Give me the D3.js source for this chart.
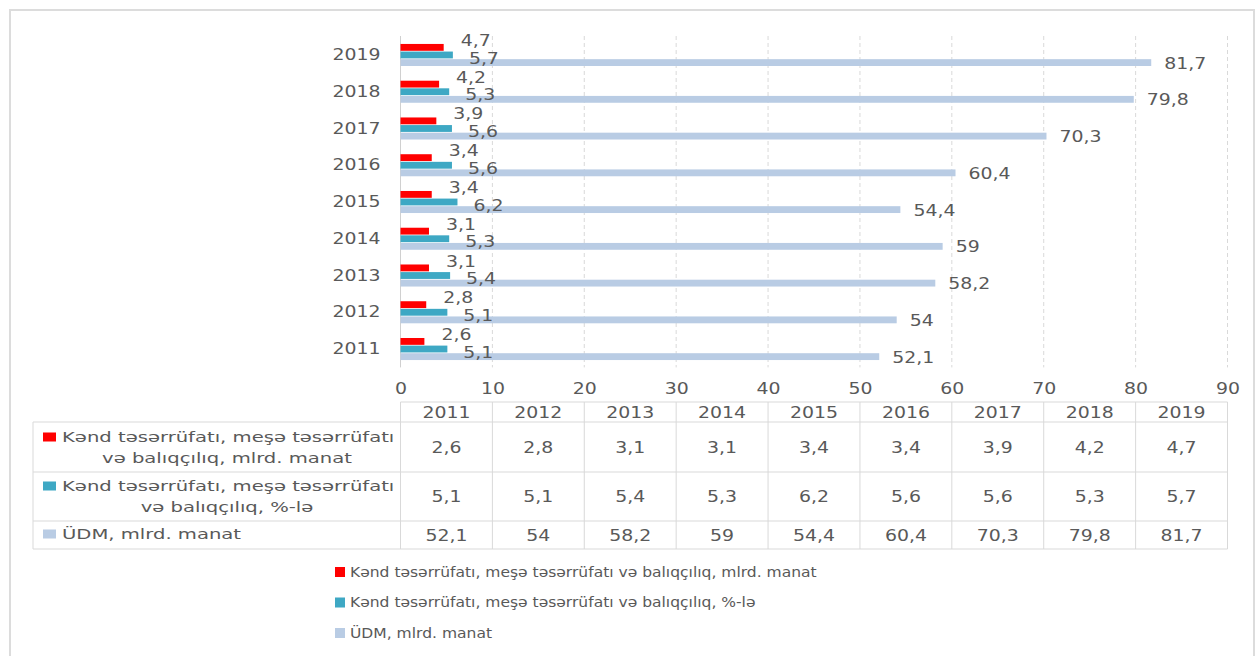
<!DOCTYPE html>
<html>
<head>
<meta charset="utf-8">
<script src="https://cdn.jsdelivr.net/npm/d3@7"></script>
<style>
  body { margin: 0; background: #fff; }
  text { font-family: "DejaVu Sans", sans-serif; fill: #595959; }
</style>
</head>
<body>
<script>
// data
const years = [2011, 2012, 2013, 2014, 2015, 2016, 2017, 2018, 2019];
const agriValue = [2.6, 2.8, 3.1, 3.1, 3.4, 3.4, 3.9, 4.2, 4.7];
const agriShare = [5.1, 5.1, 5.4, 5.3, 6.2, 5.6, 5.6, 5.3, 5.7];
const gdp = [52.1, 54, 58.2, 59, 54.4, 60.4, 70.3, 79.8, 81.7];
const seriesNames = [
  "Kənd təsərrüfatı, meşə təsərrüfatı və balıqçılıq, mlrd. manat",
  "Kənd təsərrüfatı, meşə təsərrüfatı və balıqçılıq, %-lə",
  "ÜDM, mlrd. manat"
];
const tableNames = [
  ["Kənd təsərrüfatı, meşə təsərrüfatı", "və balıqçılıq, mlrd. manat"],
  ["Kənd təsərrüfatı, meşə təsərrüfatı", "və balıqçılıq, %-lə"],
  ["ÜDM, mlrd. manat"]
];
const xTicks = [0, 10, 20, 30, 40, 50, 60, 70, 80, 90];
const colors = ["#ff0000", "#3ea8c4", "#b9cce4"];

const series = [agriValue, agriShare, gdp].map((vals, i) => ({
  key: "s" + i, name: seriesNames[i], color: colors[i], values: vals
}));

const w = 1258, h = 656;
const sx = 1.18; // the source picture is stretched sideways
const fmt = v => String(v).replace(".", ",");

const svg = d3.select("body").append("svg")
  .attr("width", w)
  .attr("height", h);

// outer frame
svg.append("rect")
  .attr("x", 10).attr("y", 10)
  .attr("width", 1244).attr("height", 670)
  .attr("fill", "none")
  .attr("stroke", "#dcdcdc")
  .attr("stroke-width", 2);

const x = d3.scaleLinear().domain([0, 90]).range([400.5, 1227.5]);
const y = d3.scaleBand()
  .domain(years.slice().reverse())
  .range([36.6, 367.4])
  .paddingInner(0.4)
  .paddingOuter(0.2);
const ySub = d3.scaleBand()
  .domain(series.map(s => s.key))
  .range([0, y.bandwidth()])
  .paddingInner(0.1);

function txt(g, px, py, str, size, anchor, scale) {
  return g.append("text")
    .attr("transform", `translate(${px},${py}) scale(${scale || sx},1)`)
    .attr("font-size", size)
    .attr("text-anchor", anchor || "start")
    .attr("dy", "0.35em")
    .text(str);
}

//grid
svg.append("g")
  .selectAll("line")
  .data(xTicks)
  .enter().append("line")
  .attr("x1", d => x(d)).attr("x2", d => x(d))
  .attr("y1", 36).attr("y2", 367.4)
  .attr("stroke", d => d === 0 ? "#d0d0d0" : "#d9d9d9")
  .attr("stroke-dasharray", d => d === 0 ? null : "4,3");

//axes
const xAxis = svg.append("g")
  .attr("transform", "translate(0,367.4)")
  .call(d3.axisBottom(x).tickValues(xTicks).tickSize(0).tickPadding(15));
xAxis.select(".domain").remove();
xAxis.selectAll("text")
  .attr("font-size", 16)
  .attr("transform", `scale(${sx},1)`)
  .attr("fill", "#595959");

const yAxis = svg.append("g")
  .attr("transform", `translate(${x(0)},0)`)
  .call(d3.axisLeft(y).tickSize(0).tickPadding(17));
yAxis.select(".domain").remove();
yAxis.selectAll("text")
  .attr("font-size", 16)
  .attr("transform", `scale(${sx},1)`)
  .attr("fill", "#595959");

//bars
const rows = years.map((yr, i) => ({
  year: yr,
  items: series.map(s => ({ key: s.key, color: s.color, value: s.values[i] }))
}));

const groups = svg.append("g")
  .selectAll("g")
  .data(rows)
  .enter().append("g")
  .attr("transform", d => `translate(0,${y(d.year)})`);

groups.selectAll("rect")
  .data(d => d.items)
  .enter().append("rect")
  .attr("x", x(0))
  .attr("y", d => ySub(d.key))
  .attr("width", d => x(d.value) - x(0))
  .attr("height", ySub.bandwidth())
  .attr("fill", d => d.color);

// value labels, nudged the way the source has them
const labelShift = { s0: [17, -7], s1: [16, 3], s2: [13, 0.5] };
groups.each(function(d) {
  const g = d3.select(this);
  d.items.forEach(it => {
    const sh = labelShift[it.key];
    txt(g, x(it.value) + sh[0], ySub(it.key) + ySub.bandwidth() / 2 + sh[1], fmt(it.value), 16, "start");
  });
});

//data table
const tTop = 402, tHead = 422;
const rowBounds = [422, 472, 521, 549];
const tLeft = 33, tRight = x(90);
const table = svg.append("g").attr("stroke", "#d9d9d9").attr("fill", "none");

table.append("line").attr("x1", x(0)).attr("x2", tRight).attr("y1", tTop).attr("y2", tTop);
rowBounds.forEach(b => {
  table.append("line").attr("x1", tLeft).attr("x2", tRight).attr("y1", b).attr("y2", b);
});
table.append("line").attr("x1", tLeft).attr("x2", tLeft).attr("y1", tHead).attr("y2", 549);
xTicks.forEach(t => {
  table.append("line").attr("x1", x(t)).attr("x2", x(t)).attr("y1", tTop).attr("y2", 549);
});

const tText = svg.append("g");
years.forEach((yr, i) => {
  const cx = (x(i * 10) + x(i * 10 + 10)) / 2;
  txt(tText, cx, 412, yr, 16, "middle");
  series.forEach((s, j) => {
    txt(tText, cx, (rowBounds[j] + rowBounds[j + 1]) / 2, fmt(s.values[i]), 16, "middle");
  });
});

const lineY = [[437, 458], [486, 507], [534]];
series.forEach((s, j) => {
  tText.append("rect")
    .attr("x", 43).attr("y", lineY[j][0] - 4.5)
    .attr("width", 13).attr("height", 9)
    .attr("fill", s.color);
  tableNames[j].forEach((line, k) => {
    if (k === 0) txt(tText, 62, lineY[j][k], line, 14, "start", 1.4);
    else txt(tText, 227, lineY[j][k], line, 14, "middle", 1.4);
  });
});

//legend
const legend = svg.append("g").attr("transform", "translate(335,572)");
series.forEach((s, j) => {
  legend.append("rect")
    .attr("x", 0).attr("y", j * 30.5 - 5)
    .attr("width", 10).attr("height", 10)
    .attr("fill", s.color);
  txt(legend, 15, j * 30.5, s.name, 14, "start", 1.11);
});
</script>
</body>
</html>
